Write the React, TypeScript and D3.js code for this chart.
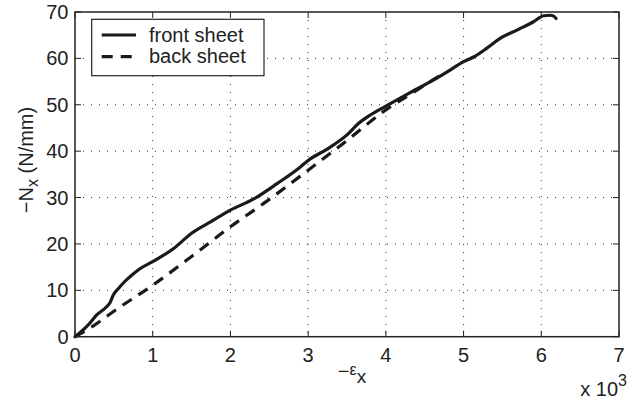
import React from "react";
import * as d3 from "d3";

// Strain (x10^3) and in-plane load N_x (N/mm) for the two face sheets
const frontStrain = [0, 0.1, 0.19, 0.28, 0.41, 0.45, 0.49, 0.56, 0.64, 0.74, 0.84, 1.0, 1.13, 1.27, 1.38, 1.5, 1.75, 2.0, 2.3, 2.6, 2.9, 3.0, 3.25, 3.5, 3.65, 3.8, 4.0, 4.3, 4.61, 4.8, 5.0, 5.13, 5.3, 5.47, 5.7, 5.9, 6.03, 6.11, 6.16, 6.19];
const frontLoad = [0, 1.4, 2.9, 4.7, 6.5, 7.3, 8.9, 10.4, 11.9, 13.4, 14.7, 16.2, 17.5, 19.0, 20.6, 22.3, 24.8, 27.3, 29.7, 33.0, 36.6, 38.0, 40.5, 43.5, 46.0, 47.8, 49.7, 52.5, 55.3, 57.2, 59.3, 60.3, 62.2, 64.3, 66.2, 67.9, 69.2, 69.3, 69.1, 68.6];

const backStrain = [0, 0.25, 0.5, 1.0, 1.5, 2.0, 2.5, 3.0, 3.5, 4.0, 4.3, 4.6, 4.7];
const backLoad = [0, 2.5, 5.5, 11.1, 17.3, 23.7, 29.6, 35.9, 42.3, 48.9, 52.1, 55.3, 56.3];

const xTicks = [0, 1, 2, 3, 4, 5, 6, 7];
const yTicks = [0, 10, 20, 30, 40, 50, 60, 70];

const legendLabels = ["front sheet", "back sheet"];

const W = 627;
const H = 399;
const left = 75;
const right = 619;
const top = 12;
const bottom = 336.7;
const font = "'Liberation Sans', Arial, Helvetica, sans-serif";
const fs = 20;

export default function App() {
  const x = d3.scaleLinear().domain([0, 7]).range([left, right]);
  const y = d3.scaleLinear().domain([0, 70]).range([bottom, top]);

  const line = d3
    .line<[number, number]>()
    .x((d) => x(d[0]))
    .y((d) => y(d[1]))
    .curve(d3.curveMonotoneX);

  const frontPts = frontStrain.map((s, i) => [s, frontLoad[i]] as [number, number]);
  const backPts = backStrain.map((s, i) => [s, backLoad[i]] as [number, number]);

  const tickLen = 6;

  return (
    <svg
      width={W}
      height={H}
      style={{ position: "absolute", left: 0, top: 0, background: "#fff" }}
      fontFamily={font}
    >
      <rect x={0} y={0} width={W} height={H} fill="#fff" />

      {/* dotted grid */}
      {xTicks.slice(1, -1).map((t) => (
        <line key={"gx" + t} x1={x(t)} x2={x(t)} y1={top} y2={bottom} stroke="#333" strokeWidth={1} strokeDasharray="1 7" />
      ))}
      {yTicks.slice(1, -1).map((t) => (
        <line key={"gy" + t} x1={left} x2={right} y1={y(t)} y2={y(t)} stroke="#333" strokeWidth={1} strokeDasharray="1 7" />
      ))}

      {/* inward ticks on all four sides */}
      {xTicks.map((t) => (
        <g key={"tx" + t}>
          <line x1={x(t)} x2={x(t)} y1={bottom} y2={bottom - tickLen} stroke="#222" strokeWidth={1} />
          <line x1={x(t)} x2={x(t)} y1={top} y2={top + tickLen} stroke="#222" strokeWidth={1} />
          <text x={x(t)} y={362} textAnchor="middle" fontSize={fs} fill="#222">
            {t}
          </text>
        </g>
      ))}
      {yTicks.map((t) => (
        <g key={"ty" + t}>
          <line x1={left} x2={left + tickLen} y1={y(t)} y2={y(t)} stroke="#222" strokeWidth={1} />
          <line x1={right} x2={right - tickLen} y1={y(t)} y2={y(t)} stroke="#222" strokeWidth={1} />
          <text x={68.5} y={y(t) + 7} textAnchor="end" fontSize={fs} fill="#222">
            {t}
          </text>
        </g>
      ))}

      {/* data */}
      <path d={line(backPts) ?? ""} fill="none" stroke="#1a1a1a" strokeWidth={3.2} strokeDasharray="11 8" />
      <path d={line(frontPts) ?? ""} fill="none" stroke="#1a1a1a" strokeWidth={3.2} strokeLinecap="round" strokeLinejoin="round" />

      {/* axes box */}
      <rect x={left} y={top} width={right - left} height={bottom - top} fill="none" stroke="#222" strokeWidth={1.5} />

      {/* legend */}
      <g>
        <rect x={91.7} y={19.3} width={172.3} height={56.4} fill="#fff" stroke="#222" strokeWidth={1.2} />
        <line x1={101.7} x2={136} y1={35} y2={35} stroke="#1a1a1a" strokeWidth={3.2} />
        <line x1={101.7} x2={136} y1={56.7} y2={56.7} stroke="#1a1a1a" strokeWidth={3.2} strokeDasharray="11 8" />
        <text x={149} y={42} fontSize={fs} fill="#222">
          {legendLabels[0]}
        </text>
        <text x={149} y={63} fontSize={fs} fill="#222">
          {legendLabels[1]}
        </text>
      </g>

      {/* axis labels */}
      <text transform="translate(33,160) rotate(-90)" textAnchor="middle" fontSize={fs} fill="#222">
        −N<tspan dy={5} fontSize={16}>x</tspan>
        <tspan dy={-5}> (N/mm)</tspan>
      </text>
      <text x={352} y={378} textAnchor="middle" fontSize={fs} fill="#222">
        −<tspan fontSize={16} dy={-3}>ε</tspan>
        <tspan dy={8} fontSize={19}>x</tspan>
      </text>
      <text x={627} y={396} textAnchor="end" fontSize={fs} fill="#222">
        x 10<tspan dy={-10} fontSize={16}>3</tspan>
      </text>
    </svg>
  );
}
